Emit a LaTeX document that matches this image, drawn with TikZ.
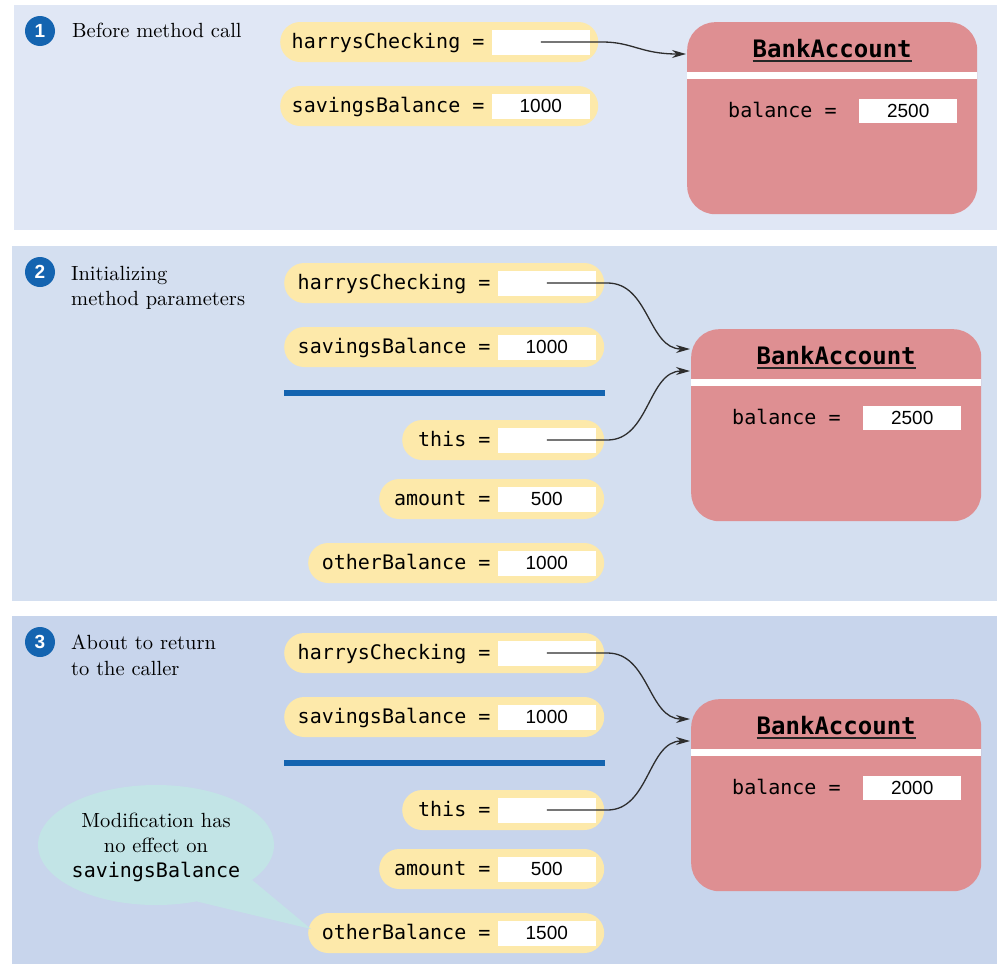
\documentclass[tikz,border=0pt]{standalone}
\usepackage{fontspec}
\setmonofont{DejaVu Sans Mono}
\newfontfamily\numfont{Liberation Sans}
\newfontfamily\capfont{lmroman10-regular.otf}
\usetikzlibrary{arrows.meta,shapes.misc,shapes.geometric}
\definecolor{bgA}{RGB}{224,231,245}
\definecolor{bgB}{RGB}{212,223,240}
\definecolor{bgC}{RGB}{200,213,236}
\definecolor{pillc}{RGB}{253,233,170}
\definecolor{objc}{RGB}{222,143,146}
\definecolor{bluec}{RGB}{20,100,176}
\definecolor{callc}{RGB}{194,228,230}
\definecolor{arrc}{RGB}{45,45,45}
\tikzset{
  pill/.style={rounded rectangle, fill=pillc, minimum height=40pt, inner sep=0pt, anchor=west},
  valbox/.style={rectangle, fill=white, minimum width=98pt, minimum height=25pt, inner sep=0pt, font=\fontsize{19}{22}\numfont},
  lbl/.style={inner sep=0pt, font=\fontsize{20}{24}\ttfamily, anchor=base east},
  objbox/.style={rectangle, rounded corners=28pt, fill=objc, minimum width=290pt, minimum height=192pt, inner sep=0pt, anchor=north west},
  titlef/.style={inner sep=0pt, font=\fontsize{24}{28}\ttfamily\bfseries, anchor=base},
  numcirc/.style={circle, fill=bluec, minimum size=30pt, inner sep=0pt, text=white, font=\fontsize{19}{19}\numfont\bfseries},
  captxt/.style={inner sep=0pt, anchor=base west, font=\fontsize{20.5}{26}\capfont},
  ref/.style={draw=arrc, line width=1.3pt, -{Stealth[length=14pt,width=8pt]}},
  divider/.style={draw=bluec, line width=5.5pt}
}
\newcommand\varpill[6]{%
  \pgfmathsetmacro\pillw{#3-#2}%
  \node[pill, minimum width=\pillw pt] (#1) at (#2,#4) {};
  \node[valbox, anchor=east] (#1v) at (#3-8,#4) {#6};
  \node[lbl] (#1l) at ([shift={(-7,6.5)}]#1v.west) {#5};
}
\newcommand\bankobj[4]{%
  \node[objbox] (#1) at (#2,#3) {};
  \node[titlef] (#1t) at ([shift={(0,35)}]#1.north) {BankAccount};
  \draw[line width=1.5pt, black!85] ([yshift=-4pt]#1t.base west) -- ([yshift=-4pt]#1t.base east);
  \draw[white, line width=7pt] ([shift={(0,53)}]#1.north west) -- ([shift={(0,53)}]#1.north east);
  \node[lbl, anchor=base west] (#1l) at ([shift={(41,95.5)}]#1.north west) {balance =};
  \node[valbox, anchor=north west, minimum height=24pt] (#1v) at ([shift={(172,77)}]#1.north west) {#4};
}
\begin{document}
\begin{tikzpicture}[x=1pt,y=-1pt]
\useasboundingbox (0,0) rectangle (998,964);
% panels
\fill[bgA] (14,5) rectangle (997,230);
\fill[bgB] (12,246) rectangle (997,601);
\fill[bgC] (12,616) rectangle (997,964);

% ---------- panel 1
\node[numcirc] (n1) at (40,31) {1};
\node[captxt] (c1) at (72,37) {Before method call};
\varpill{hc1}{280}{598}{42}{harrysChecking =}{}
\varpill{sb1}{280}{598}{106}{savingsBalance =}{1000}
\bankobj{ba1}{687}{22}{2500}
\coordinate (a1) at (686,54);
\draw[ref] (hc1v.center) -- ([xshift=4pt]hc1.east) .. controls +(30,0) and +(-45,0) .. (a1);

% ---------- panel 2
\node[numcirc] (n2) at (40,272) {2};
\node[captxt] (c2a) at (71,280) {Initializing};
\node[captxt] (c2b) at (71,305) {method parameters};
\varpill{hc2}{284}{604}{283}{harrysChecking =}{}
\varpill{sb2}{284}{604}{347}{savingsBalance =}{1000}
\draw[divider] (284,393) -- (605,393);
\varpill{th2}{402}{604}{440}{this =}{}
\varpill{am2}{379}{604}{499}{amount =}{500}
\varpill{ob2}{308}{604}{563}{otherBalance =}{1000}
\bankobj{ba2}{691}{329}{2500}
\coordinate (a21) at (690,349);
\coordinate (a22) at (690,371);
\draw[ref] (hc2v.center) -- ([xshift=3pt]hc2.east) .. controls +(42,0) and +(-42,0) .. (a21);
\draw[ref] (th2v.center) -- ([xshift=3pt]th2.east) .. controls +(42,0) and +(-42,0) .. (a22);

% ---------- panel 3
\node[numcirc] (n3) at (40,642) {3};
\node[captxt] (c3a) at (71,649) {About to return};
\node[captxt] (c3b) at (71,675) {to the caller};
\varpill{hc3}{284}{604}{653}{harrysChecking =}{}
\varpill{sb3}{284}{604}{717}{savingsBalance =}{1000}
\draw[divider] (284,763) -- (605,763);
\varpill{th3}{402}{604}{810}{this =}{}
\varpill{am3}{379}{604}{869}{amount =}{500}
\varpill{ob3}{308}{604}{933}{otherBalance =}{1500}
\bankobj{ba3}{691}{699}{2000}
\coordinate (a31) at (690,719);
\coordinate (a32) at (690,741);
\draw[ref] (hc3v.center) -- ([xshift=3pt]hc3.east) .. controls +(42,0) and +(-42,0) .. (a31);
\draw[ref] (th3v.center) -- ([xshift=3pt]th3.east) .. controls +(42,0) and +(-42,0) .. (a32);

% callout
\node[ellipse, fill=callc, minimum width=236pt, minimum height=120pt, inner sep=0pt] (call) at (156,845) {};
\fill[callc] (call.-54) -- ([shift={(3,-4)}]ob3.west) -- (call.-20) -- cycle;
\node[inner sep=0pt, align=center, font=\fontsize{20.5}{25}\capfont] (callt) at (156,847.5)
  {Modification has\\no effect on\\{\fontsize{20}{25}\ttfamily savingsBalance}};
\end{tikzpicture}
\end{document}
